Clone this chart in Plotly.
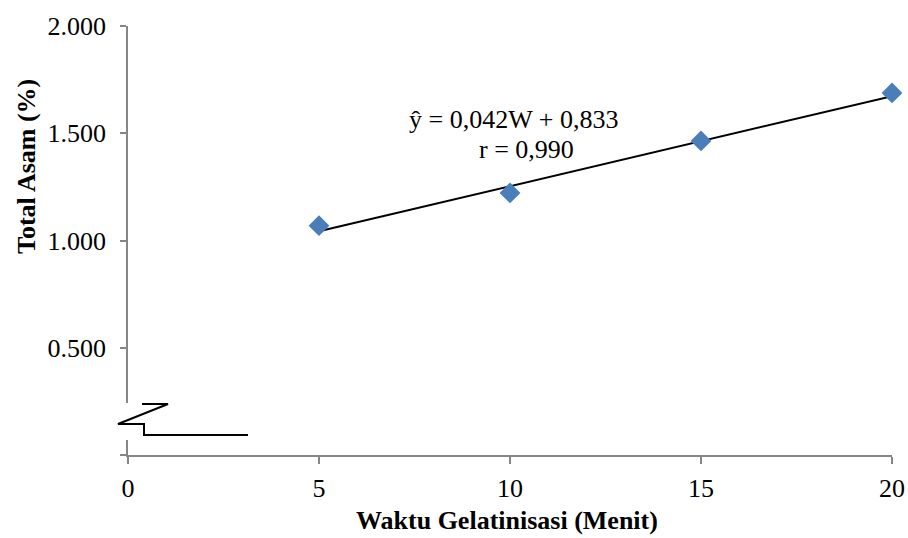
import plotly.graph_objects as go

# Data
waktu = [5, 10, 15, 20]
total_asam = [1.069, 1.222, 1.464, 1.688]
slope = 0.042
intercept = 0.833
x_ticks = [0, 5, 10, 15, 20]
y_ticks = [0, 0.5, 1.0, 1.5, 2.0]
y_tick_labels = ["", "0.500", "1.000", "1.500", "2.000"]
eq_text = "ŷ = 0,042W + 0,833"
r_text = "r = 0,990"

W, H = 908, 538
ML, MR, MT, MB = 128, 16, 26, 83
PW, PH = W - ML - MR, H - MT - MB

def px(xp):
    return (xp - ML) / PW

def py(yp):
    return (H - MB - yp) / PH

FONT = "Liberation Serif, Times New Roman, serif"
AX = "#868686"
FS = 26

fit_x = [waktu[0], waktu[-1]]
fit_y = [slope * v + intercept for v in fit_x]

fig = go.Figure()
fig.add_trace(go.Scatter(x=fit_x, y=fit_y, mode="lines",
                         line=dict(color="black", width=2), hoverinfo="skip",
                         cliponaxis=False))
fig.add_trace(go.Scatter(x=waktu, y=total_asam, mode="markers",
                         marker=dict(symbol="diamond", size=16, color="#4A7EBB",
                                     line=dict(width=0)),
                         cliponaxis=False))

# break symbol path (decoration)
pts = [(142, 404), (168, 404), (118, 424), (144, 424), (144, 435), (248, 435)]
path = "M " + " L ".join(f"{px(a):.5f},{py(b):.5f}" for a, b in pts)

fig.update_layout(
    template="none",
    width=W, height=H, autosize=False,
    margin=dict(l=ML, r=MR, t=MT, b=MB, pad=0, autoexpand=False),
    paper_bgcolor="white", plot_bgcolor="white",
    showlegend=False,
    font=dict(family=FONT, size=FS, color="black"),
    xaxis=dict(range=[0, 20], tickvals=x_ticks, ticktext=[str(v) for v in x_ticks],
               showgrid=False, zeroline=False, showline=True, linecolor=AX, linewidth=1.5,
               ticks="outside", ticklen=7, tickcolor=AX, tickwidth=1.5, automargin=False,
               tickfont=dict(family=FONT, size=FS, color="black"), ticklabelstandoff=2),
    yaxis=dict(range=[0, 2], tickvals=y_ticks, ticktext=y_tick_labels,
               showgrid=False, zeroline=False, showline=True, linecolor=AX, linewidth=1.5,
               ticks="outside", ticklen=6, tickcolor=AX, tickwidth=1.5, automargin=False,
               tickfont=dict(family=FONT, size=FS, color="black"), ticklabelstandoff=9),
    shapes=[
        dict(type="rect", xref="paper", yref="paper", x0=px(115), x1=px(137),
             y0=py(440), y1=py(403), fillcolor="white", line=dict(width=0), layer="above"),
        dict(type="path", xref="paper", yref="paper", path=path,
             line=dict(color="black", width=2), layer="above"),
    ],
    annotations=[
        dict(text="<b>Waktu Gelatinisasi (Menit)</b>", xref="paper", yref="paper",
             x=px(507), y=py(520), xanchor="center", yanchor="middle", showarrow=False,
             font=dict(family=FONT, size=FS, color="black")),
        dict(text="<b>Total Asam (%)</b>", xref="paper", yref="paper",
             x=px(26), y=py(167), xanchor="center", yanchor="middle", showarrow=False,
             textangle=-90, font=dict(family=FONT, size=FS, color="black")),
        dict(text=eq_text, xref="x", yref="y", x=10.08, y=1.563, xanchor="center",
             yanchor="middle", showarrow=False, font=dict(family=FONT, size=FS, color="black")),
        dict(text=r_text, xref="x", yref="y", x=10.42, y=1.423, xanchor="center",
             yanchor="middle", showarrow=False, font=dict(family=FONT, size=FS, color="black")),
    ],
)

fig.write_html("out.html", config={"displayModeBar": False, "responsive": False},
               post_script="document.body.style.margin='0';document.body.style.overflow='hidden';")
